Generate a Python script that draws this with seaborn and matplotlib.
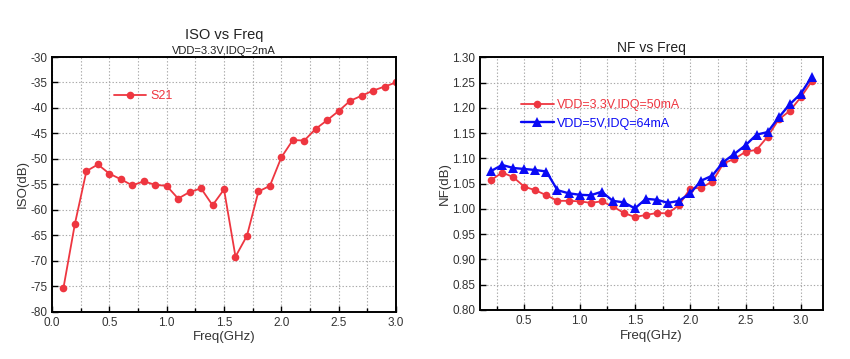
import numpy as np
import pandas as pd
import matplotlib
matplotlib.use("Agg")
import matplotlib.pyplot as plt
from matplotlib.ticker import MultipleLocator, FormatStrFormatter
import seaborn as sns

# ---------------- data ----------------
iso_freq = [0.1, 0.2, 0.3, 0.4, 0.5, 0.6, 0.7, 0.8, 0.9, 1.0,
            1.1, 1.2, 1.3, 1.4, 1.5, 1.6, 1.7, 1.8, 1.9, 2.0,
            2.1, 2.2, 2.3, 2.4, 2.5, 2.6, 2.7, 2.8, 2.9, 3.0]
iso_s21 = [-75.3, -62.7, -52.4, -51.1, -52.9, -54.0, -55.2, -54.4, -55.1, -55.3,
           -57.8, -56.5, -55.8, -59.1, -56.0, -69.2, -65.1, -56.4, -55.3, -49.7,
           -46.3, -46.4, -44.1, -42.4, -40.6, -38.6, -37.6, -36.6, -35.8, -35.0]

nf_freq = [0.2, 0.3, 0.4, 0.5, 0.6, 0.7, 0.8, 0.9, 1.0, 1.1,
           1.2, 1.3, 1.4, 1.5, 1.6, 1.7, 1.8, 1.9, 2.0, 2.1,
           2.2, 2.3, 2.4, 2.5, 2.6, 2.7, 2.8, 2.9, 3.0, 3.1]
nf_33v = [1.057, 1.072, 1.063, 1.044, 1.037, 1.027, 1.016, 1.016, 1.015, 1.012,
          1.015, 1.005, 0.992, 0.984, 0.988, 0.992, 0.991, 1.008, 1.040, 1.042,
          1.054, 1.090, 1.099, 1.113, 1.117, 1.143, 1.177, 1.194, 1.221, 1.253]
nf_5v = [1.075, 1.087, 1.081, 1.079, 1.077, 1.074, 1.037, 1.031, 1.028, 1.027,
         1.034, 1.016, 1.013, 1.001, 1.020, 1.018, 1.012, 1.016, 1.031, 1.056,
         1.066, 1.093, 1.109, 1.126, 1.147, 1.152, 1.181, 1.207, 1.228, 1.262]

iso_label = "S21"
nf_labels = ["VDD=3.3V,IDQ=50mA", "VDD=5V,IDQ=64mA"]

# ---------------- style ----------------
sns.set_theme(style="white")
plt.rcParams['font.family'] = ['Liberation Sans', 'DejaVu Sans']
plt.rcParams['axes.unicode_minus'] = False

RED = "#EE3640"
BLUE = "#0A0AF5"
TICKC = "#333333"

fig = plt.figure(figsize=(8.5, 3.59), dpi=100)
ax1 = fig.add_axes([0.0612, 0.1318, 0.4047, 0.7094])
ax2 = fig.add_axes([0.5647, 0.1365, 0.4035, 0.7039])


def style_axes(ax):
    for s in ax.spines.values():
        s.set_color("black")
        s.set_linewidth(1.4)
    ax.tick_params(axis='both', which='both', direction='in', colors="black",
                   labelcolor=TICKC, labelsize=8.5, top=False, right=False,
                   left=True, bottom=True)
    ax.tick_params(which='major', length=4, width=1.0)
    ax.tick_params(which='minor', length=3, width=1.0)
    ax.grid(True, which='both', color="#a8a8a8", linestyle=(0, (1.2, 1.8)), linewidth=0.8)
    ax.set_axisbelow(True)


# ---------------- left: ISO ----------------
df_iso = pd.DataFrame({"freq": iso_freq, "val": iso_s21, "series": iso_label})
sns.lineplot(data=df_iso, x="freq", y="val", hue="series", palette=[RED],
             marker="o", markersize=5.5, markeredgewidth=0, linewidth=1.3, ax=ax1)
ax1.xaxis.set_major_locator(MultipleLocator(0.5))
ax1.xaxis.set_minor_locator(MultipleLocator(0.25))
ax1.xaxis.set_major_formatter(FormatStrFormatter("%.1f"))
ax1.yaxis.set_major_locator(MultipleLocator(5))
ax1.set_xlim(0.0, 3.0)
ax1.set_ylim(-80, -30)
style_axes(ax1)
ax1.set_xlabel("Freq(GHz)", fontsize=9.5, color=TICKC, labelpad=2)
ax1.set_ylabel("ISO(dB)", fontsize=9.5, color=TICKC, labelpad=1)
ax1.text(0.5, 1.086, "ISO vs Freq", transform=ax1.transAxes, ha="center",
         va="center", fontsize=10.5, color="#222222")
ax1.text(0.5, 1.025, "VDD=3.3V,IDQ=2mA", transform=ax1.transAxes, ha="center",
         va="center", fontsize=8, color="#222222")
ax1.legend(loc="upper left", bbox_to_anchor=(0.165, 0.89), frameon=False,
           handlelength=2.6, handletextpad=0.3, fontsize=9,
           labelcolor="linecolor", borderaxespad=0)

# ---------------- right: NF ----------------
df_nf = pd.concat([
    pd.DataFrame({"freq": nf_freq, "val": nf_33v, "series": nf_labels[0]}),
    pd.DataFrame({"freq": nf_freq, "val": nf_5v, "series": nf_labels[1]}),
])
sns.lineplot(data=df_nf, x="freq", y="val", hue="series", style="series",
             palette={nf_labels[0]: RED, nf_labels[1]: BLUE},
             markers={nf_labels[0]: "o", nf_labels[1]: "^"},
             dashes=False, markersize=5.5, markeredgewidth=0,
             linewidth=1.3, ax=ax2)
# thicker blue line
for ln in ax2.get_lines():
    if matplotlib.colors.to_hex(ln.get_color()).lower() == BLUE.lower():
        ln.set_linewidth(1.7)
        ln.set_markersize(6.5)
ax2.xaxis.set_major_locator(MultipleLocator(0.5))
ax2.xaxis.set_minor_locator(MultipleLocator(0.25))
ax2.xaxis.set_major_formatter(FormatStrFormatter("%.1f"))
ax2.yaxis.set_major_locator(MultipleLocator(0.05))
ax2.yaxis.set_major_formatter(FormatStrFormatter("%.2f"))
ax2.set_xlim(0.1, 3.2)
ax2.set_ylim(0.80, 1.30)
style_axes(ax2)
ax2.set_xlabel("Freq(GHz)", fontsize=9.5, color=TICKC, labelpad=2)
ax2.set_ylabel("NF(dB)", fontsize=9.5, color=TICKC, labelpad=1)
ax2.text(0.5, 1.037, "NF vs Freq", transform=ax2.transAxes, ha="center",
         va="center", fontsize=10, color="#222222")
ax2.legend(loc="upper left", bbox_to_anchor=(0.105, 0.855), frameon=False,
           handlelength=2.6, handletextpad=0.3, fontsize=9,
           labelcolor="linecolor", borderaxespad=0, labelspacing=0.55)

fig.savefig("out.png", dpi=100)
